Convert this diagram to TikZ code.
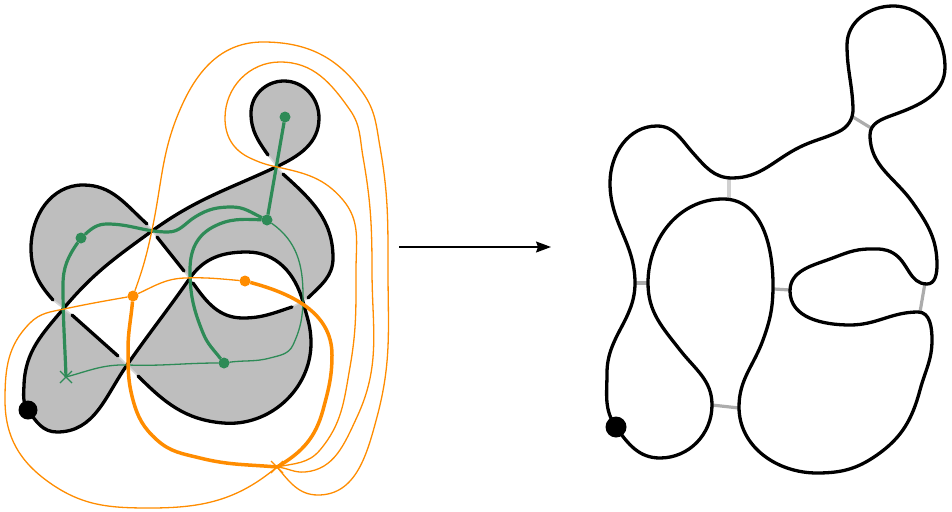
\documentclass[tikz,border=0pt]{standalone}
\usepackage{amsmath}
\usepackage[table]{xcolor}
\definecolor{grisRegion}{RGB}{190,190,190}
\definecolor{grisPuente}{RGB}{215,215,215}
\definecolor{grisMedio}{RGB}{172,172,172}
\definecolor{grisClaro}{RGB}{208,208,208}
\definecolor{verdeMar}{RGB}{46,139,87}
\definecolor{naranja}{RGB}{255,140,0}
\usetikzlibrary{arrows.meta,shapes,calc,positioning}
\tikzstyle{strand}=[black, line width=3.3pt, line cap=round]
\tikzstyle{bridge}=[grisPuente, line width=1.6pt]
\tikzstyle{rung}  =[grisMedio, line width=3.2pt]
\tikzstyle{lrung} =[grisClaro, line width=3.2pt]
\tikzstyle{wide}  =[line width=3.2pt]
\tikzstyle{thin}  =[line width=1.3pt]
\tikzstyle{vertex}=[circle, fill, minimum size=11pt,
                    inner sep=0pt, outer sep=0pt]
\tikzstyle{base}  =[circle, fill=black, minimum size=19pt,
                    inner sep=0pt, outer sep=0pt]
\tikzstyle{cross} =[cross out, draw, minimum size=12pt, line width=1.2pt,
                    inner sep=0pt, outer sep=0pt]
% leaving direction and arriving direction, both as headings
\tikzset{h/.code 2 args={\pgfmathparse{#2+180}\tikzset{out=#1,in/.expanded=\pgfmathresult}}}
\newcommand{\tramoA}{(u12) to[h={-45}{-5}] (223,423) to[h={-5}{90}] (311,343) to[h={90}{105}] (303,302)
    to[h={105}{180}] (247,252) to[h={180}{-125}] (190,278) to[h={-125}{-125}] (127,365)
    to[h={-125}{180}] (57,432) to[h={180}{125}] (28,410) to[h={125}{88}] (24,385)
    to[h={88}{50}] (64,308) to[h={50}{36}] (152,231) to[h={36}{25}] (276,167)
    to[h={25}{90}] (319,118) to[h={90}{180}] (284,81) to[h={180}{-90}] (251,113) to[h={-90}{-55}] (u1)}
\newcommand{\tramoB}{(u2) to[h={-42}{-90}] (333,258) to[h={-90}{-135}] (u3)}
\newcommand{\tramoC}{(u4) to[h={-162}{180}] (243,318) to[h={180}{125}] (u5)}
\newcommand{\tramoD}{(u6) -- (u7)}
\newcommand{\tramoE}{(u8) to[h={138}{180}] (83,185) to[h={180}{-90}] (31,248) to[h={-90}{-48}] (u9)}
\newcommand{\tramoF}{(u10) -- (u11)}
\begin{document}
\begin{tikzpicture}[x=1pt,y=-1pt]
    \useasboundingbox (0,0) rectangle (952,511);

    % knot with its checkerboard colouring
    \begin{scope}
        \coordinate (u1) at (268,155);  \coordinate (u2) at (283,174);
        \coordinate (u3) at (308,298);  \coordinate (u4) at (292,307);
        \coordinate (u5) at (193,283);  \coordinate (u6) at (184,271);
        \coordinate (u7) at (157,237);  \coordinate (u8) at (147,224);
        \coordinate (u9) at (53,300);   \coordinate (u10) at (72,315);
        \coordinate (u11) at (118,356); \coordinate (u12) at (138,376);

        \fill [grisRegion, even odd rule] \tramoA -- \tramoB -- \tramoC -- \tramoD -- \tramoE -- \tramoF -- cycle;

        \foreach \i/\j in {u1/u2,u3/u4,u5/u6,u7/u8,u9/u10,u11/u12}
            \draw [bridge] (\i) to (\j);

        \draw [strand] \tramoA;
        \draw [strand] \tramoB;
        \draw [strand] \tramoC;
        \draw [strand] \tramoD;
        \draw [strand] \tramoE;
        \draw [strand] \tramoF;
        \node (base1) [base] at (28,410) {};
    \end{scope}

    % tree and co-tree
    \begin{scope}
        \node (g1) [vertex, verdeMar] at (285,117) {};
        \node (g2) [vertex, verdeMar] at (267,220) {};
        \node (g3) [vertex, verdeMar] at (81,238) {};
        \node (g4) [vertex, verdeMar] at (224,363) {};
        \node (g5) [cross, verdeMar] at (66,377) {};

        \draw [wide, verdeMar] (g1) to (g2);
        \draw [wide, verdeMar] (g2) to[h={155}{180}] (232,207) to[h={180}{212}] (195,217)
            to[h={212}{180}] (168,232) to[h={180}{180}] (107,224) to[h={180}{222}] (g3);
        \draw [wide, verdeMar] (g3) to[h={-125}{-90}] (63,285) to[h={-90}{-88}] (g5.center);
        \draw [wide, verdeMar] (g2) to[h={178}{208}] (213,227) to[h={208}{-90}] (190,270)
            to[h={-90}{-68}] (203,333) to[h={-68}{-52}] (g4);
        \draw [thin, verdeMar] (g2) to[h={-35}{-90}] (303,295) to[h={-90}{-115}] (293,345)
            to[h={-115}{-165}] (270,358) to[h={-165}{-172}] (g4);
        \draw [thin, verdeMar] (g4) to[h={180}{178}] (128,365) to[h={178}{195}] (g5.center);

        \node (o1) [vertex, naranja] at (133,296) {};
        \node (o2) [vertex, naranja] at (245,281) {};
        \node (o3) [cross, naranja] at (277,467) {};

        \draw [wide, naranja, line width=3.5pt] (o1) to[h={-95}{-90}] (128,350) to[h={-90}{-75}] (133,400)
            to[h={-75}{-42}] (157,440) to[h={-42}{-14}] (200,458) to[h={-14}{-5}] (o3.center);
        \draw [wide, naranja, line width=3.5pt] (o2) to[h={-15}{-90}] (332,355) to[h={-90}{-105}] (323,410) to[h={-105}{-150}] (o3.center);
        \draw [thin, naranja] (o1) to[h={25}{2}] (185,278) to[h={2}{-5}] (o2);
        \draw [thin, naranja] (o1) to[h={70}{78}] (152,230) to[h={78}{65}] (183,103) to[h={65}{0}] (263,42)
            to[h={0}{-55}] (363,93) to[h={-55}{-80}] (380,147) to[h={-80}{-90}] (388,270)
            to[h={-90}{-105}] (377,417) to[h={-105}{180}] (318,495) to[h={180}{130}] (o3.center);
        \draw [thin, naranja] (o3.center) to[h={-5}{5}] (305,472) to[h={5}{65}] (357,417) to[h={65}{90}] (372,270)
            to[h={90}{100}] (363,157) to[h={100}{125}] (350,110) to[h={125}{180}] (280,62) to[h={180}{-90}] (225,118)
            to[h={-90}{-25}] (250,158) to[h={-25}{-12}] (277,167) to[h={-12}{-50}] (343,200)
            to[h={-50}{-90}] (356,270) to[h={-90}{-100}] (350,367) to[h={-100}{-130}] (320,450)
            to[h={-130}{192}] (o3.center);
        \draw [thin, naranja] (o3.center) to[h={-140}{180}] (150,508) to[h={180}{145}] (50,483) to[h={145}{90}] (5,400)
            to[h={90}{45}] (30,323) to[h={45}{12}] (64,309) to[h={12}{10}] (o1);
    \end{scope}

    \coordinate (a) at (399,247);
    \coordinate (b) at (551,247);
    \draw [-{Stealth[length=15pt,width=11pt,inset=2pt]}, line width=1.5pt] (a) to (b);

    % untangled curve
    \begin{scope}
        \coordinate (r1) at (634,283); \coordinate (r2) at (649,283);
        \coordinate (r3) at (729,178); \coordinate (r4) at (729,200);
        \coordinate (r5) at (853,117); \coordinate (r6) at (871,128);
        \coordinate (r7) at (774,289); \coordinate (r8) at (790,290);
        \coordinate (r9) at (925,283); \coordinate (r10) at (920,312);
        \coordinate (r11) at (712,405); \coordinate (r12) at (739,408);

        \foreach \i/\j in {r1/r2,r5/r6,r7/r8,r9/r10,r11/r12}
            \draw [rung] (\i) to (\j);
        \draw [lrung] (r3) to (r4);

        \draw [strand] (616,427) to[h={125}{90}] (607,373) to[h={90}{90}] (635,283) to[h={90}{90}] (610,183)
            to[h={90}{0}] (657,126) to[h={0}{-48}] (693,153) to[h={-48}{0}] (732,178) to[h={0}{26}] (800,147)
            to[h={26}{25}] (838,132) to[h={25}{92}] (853,108) to[h={92}{90}] (847,45) to[h={90}{0}] (893,6)
            to[h={0}{-90}] (945,67) to[h={-90}{-160}] (893,115) to[h={-160}{-90}] (870,135)
            to[h={-90}{-55}] (913,203) to[h={-55}{-90}] (937,265) to[h={-90}{180}] (927,284)
            to[h={180}{150}] (893,253) to[h={150}{180}] (870,249) to[h={180}{200}] (830,259)
            to[h={200}{-90}] (790,291) to[h={-90}{0}] (850,325) to[h={0}{0}] (918,312)
            to[h={0}{-90}] (932,340) to[h={-90}{-105}] (920,390) to[h={-105}{-145}] (877,455)
            to[h={-145}{180}] (817,473) to[h={180}{90}] (739,407) to[h={90}{70}] (763,340)
            to[h={70}{90}] (773,285) to[h={90}{180}] (723,199) to[h={180}{-90}] (648,283)
            to[h={-90}{-52}] (680,350) to[h={-52}{-90}] (712,405) to[h={-90}{180}] (660,458)
            to[h={180}{125}] (616,427);
        \node (base2) [base, minimum size=21pt] at (616,427) {};
    \end{scope}
\end{tikzpicture}
\end{document}
